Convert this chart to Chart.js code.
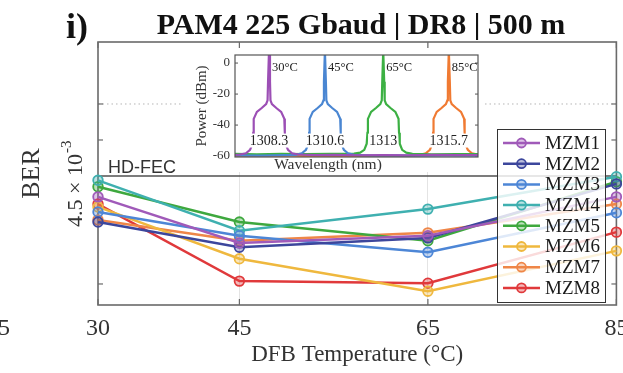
<!DOCTYPE html>
<html><head><meta charset="utf-8">
<script src="https://cdn.jsdelivr.net/npm/chart.js@4.4.1/dist/chart.umd.min.js"></script>
<style>
html,body{margin:0;padding:0;background:#fff;overflow:hidden;}
#wrap{position:relative;width:623px;height:373px;}
#main{position:absolute;left:0;top:0;}
#insetBox{position:absolute;left:183px;top:48px;width:302px;height:124px;background:#fff;}
</style></head><body>
<div id="wrap">
<canvas id="main" width="623" height="373"></canvas>
<div id="insetBox"><canvas id="inset" width="302" height="124"></canvas></div>
</div>
<script>
// ---------- main chart data (BER in units of 1e-3) ----------
const temperatures = [30, 45, 65, 85];
const seriesNames = ['MZM1','MZM2','MZM3','MZM4','MZM5','MZM6','MZM7','MZM8'];
const mzm1 = [4.21, 3.57, 3.67, 4.21];
const mzm2 = [3.86, 3.51, 3.64, 4.39];
const mzm3 = [4.00, 3.67, 3.44, 3.99];
const mzm4 = [4.44, 3.74, 4.04, 4.49];
const mzm5 = [4.35, 3.86, 3.60, 4.42];
const mzm6 = [4.07, 3.35, 2.90, 3.46];
const mzm7 = [3.89, 3.60, 3.71, 4.11];
const mzm8 = [4.11, 3.04, 3.01, 3.72];
const hdFec = 4.5;
const xTicks = [30, 45, 65, 85];
const yTicks = [3, 5, 5.5];
const yGridDotted = [5.5];
const yRange = [2.708, 6.361];

// ---------- inset data ----------
const peakWavelengths = [1308.3, 1310.6, 1313, 1315.7];
const peakLabels = ['1308.3', '1310.6', '1313', '1315.7'];
const tempLabels = ['30°C', '45°C', '65°C', '85°C'];
const insetYTicks = [0, -20, -40, -60];
const spec30wl = [1306.9,1307.1,1307.35,1307.52,1307.62,1307.65,1307.67,1307.8,1308.0,1308.18,1308.24,1308.26,1308.3,1308.34,1308.36,1308.42,1308.6,1308.8,1308.93,1308.95,1308.98,1309.08,1309.25,1309.5,1310.2,1311.0,1312.0,1313.0,1314.0,1315.0,1316.0,1316.9];
const spec30pw = [-59.3,-59.0,-58.2,-56,-52,-45,-36,-31.5,-29,-26.5,-24,-12,8,-12,-24,-26.5,-29,-31.5,-36,-45,-52,-56,-58.2,-59.0,-59.4,-59.2,-59.5,-59.3,-59.6,-59.2,-59.4,-59.3];
const spec45wl = [1306.9,1308.0,1309.4,1309.65,1309.82,1309.92,1309.95,1309.97,1310.1,1310.3,1310.48,1310.54,1310.56,1310.6,1310.64,1310.66,1310.72,1310.9,1311.1,1311.23,1311.25,1311.28,1311.38,1311.55,1311.8,1312.6,1313.6,1314.6,1315.6,1316.9];
const spec45pw = [-59.6,-59.7,-59.2,-58.2,-56,-52,-45,-36,-31.5,-29,-26.5,-24,-12,8,-12,-24,-26.5,-29,-31.5,-36,-45,-52,-56,-58.2,-59.2,-59.7,-59.5,-59.8,-59.6,-59.7];
const spec65wl = [1306.9,1307.8,1308.8,1309.8,1310.8,1311.8,1312.05,1312.22,1312.32,1312.35,1312.37,1312.5,1312.7,1312.88,1312.94,1312.96,1313,1313.04,1313.06,1313.12,1313.3,1313.5,1313.63,1313.65,1313.68,1313.78,1313.95,1314.2,1315.0,1316.0,1316.9];
const spec65pw = [-58.6,-58.9,-58.5,-58.8,-58.6,-58.4,-57.8,-56,-52,-45,-36,-31.5,-29,-26.5,-24,-12,8,-12,-24,-26.5,-29,-31.5,-36,-45,-52,-56,-57.8,-58.6,-58.9,-58.7,-58.8];
const spec85wl = [1306.9,1308.0,1309.2,1310.4,1311.6,1312.8,1314.0,1314.5,1314.75,1314.92,1315.02,1315.05,1315.07,1315.2,1315.4,1315.58,1315.64,1315.66,1315.7,1315.74,1315.76,1315.82,1316.0,1316.2,1316.33,1316.35,1316.38,1316.48,1316.65,1316.9];
const spec85pw = [-59.9,-60.0,-59.8,-60.0,-59.9,-60.0,-59.8,-59.4,-58.2,-56,-52,-45,-36,-31.5,-29,-26.5,-24,-12,8,-12,-24,-26.5,-29,-31.5,-36,-45,-52,-56,-58.2,-59.0];

const SERIF = '"Liberation Serif", "Times New Roman", serif';
const SANS = '"Liberation Sans", Arial, sans-serif';
const colors = ['#a05ab9','#3c469c','#4d86d6','#3fb0b0','#3ea83e','#efb83e','#ef8648','#e0393b'];
const specColors = ['#9c4fb5','#4a86d2','#3cb043','#f07a32'];
function withAlpha(hex, a){const n=parseInt(hex.slice(1),16);return `rgba(${n>>16},${(n>>8)&255},${n&255},${a})`;}

const seriesValues = [mzm1,mzm2,mzm3,mzm4,mzm5,mzm6,mzm7,mzm8];
const datasets = seriesValues.map((vals,i)=>({
  label: seriesNames[i],
  data: vals.map((v,j)=>({x: temperatures[j], y: v})),
  borderColor: colors[i],
  backgroundColor: withAlpha(colors[i],0.35),
  pointBorderColor: colors[i],
  pointBackgroundColor: withAlpha(colors[i],0.35),
  borderWidth: 2.5, pointRadius: 4.8, pointBorderWidth: 1.8,
  tension: 0, clip: false
}));

function line(ctx,x0,y0,x1,y1){ctx.beginPath();ctx.moveTo(x0,y0);ctx.lineTo(x1,y1);ctx.stroke();}

const mainDecor = {
  id: 'mainDecor',
  beforeDatasetsDraw(chart){
    const {ctx, chartArea:a, scales:{x,y}} = chart;
    ctx.save();
    ctx.setLineDash([1.5,3]); ctx.strokeStyle='#b5b5b5'; ctx.lineWidth=1;
    yGridDotted.forEach(v=>{const p=y.getPixelForValue(v); line(ctx,a.left,p,a.right,p);});
    ctx.setLineDash([]);
    ctx.strokeStyle='#6a6a6a'; ctx.lineWidth=1.6;
    ctx.strokeRect(a.left,a.top,a.right-a.left,a.bottom-a.top);
    ctx.lineWidth=1.2; ctx.strokeStyle='#6a6a6a';
    xTicks.forEach(v=>{const p=x.getPixelForValue(v); line(ctx,p,a.bottom,p,a.bottom-6); line(ctx,p,a.top,p,a.top+6);});
    yTicks.forEach(v=>{const p=y.getPixelForValue(v); line(ctx,a.left,p,a.left+5,p); line(ctx,a.right,p,a.right-5,p);});
    const ph = y.getPixelForValue(hdFec);
    ctx.strokeStyle='#505050'; ctx.lineWidth=1.5; line(ctx,a.left,ph,a.right,ph);
    ctx.font='18px '+SANS; ctx.fillStyle='#333'; ctx.textBaseline='alphabetic'; ctx.textAlign='left';
    ctx.fillText('HD-FEC', a.left+10, ph-3);
    ctx.save();
    ctx.translate(82, ph+51); ctx.rotate(-Math.PI/2);
    ctx.font='22px '+SERIF; ctx.fillStyle='#333';
    const main = '4.5 \u00d7 10'; ctx.fillText(main,0,0);
    const w = ctx.measureText(main).width;
    ctx.font='15px '+SERIF; ctx.fillText('-3', w+1, -11);
    ctx.restore();
    ctx.restore();
  },
  afterDatasetsDraw(chart){
    const {ctx} = chart;
    ctx.save();
    const L={x:497,y:129,w:108,h:173,row0:143,step:20.7,lx0:503,lx1:540,tx:545};
    ctx.fillStyle='rgba(255,255,255,0.82)'; ctx.fillRect(L.x,L.y,L.w,L.h);
    ctx.strokeStyle='#333'; ctx.lineWidth=1; ctx.strokeRect(L.x+0.5,L.y+0.5,L.w,L.h);
    chart.data.datasets.forEach((ds,i)=>{
      const yy=L.row0+i*L.step;
      ctx.strokeStyle=ds.borderColor; ctx.lineWidth=2.5; line(ctx,L.lx0,yy,L.lx1,yy);
      ctx.beginPath(); ctx.arc((L.lx0+L.lx1)/2,yy,4.5,0,Math.PI*2);
      ctx.fillStyle=ds.pointBackgroundColor; ctx.fill(); ctx.lineWidth=1.8; ctx.stroke();
      ctx.fillStyle='#1a1a1a'; ctx.font='19px '+SERIF; ctx.textBaseline='middle'; ctx.textAlign='left';
      ctx.fillText(ds.label, L.tx, yy+1);
    });
    ctx.fillStyle='#111'; ctx.textBaseline='alphabetic';
    ctx.font='bold 30px '+SERIF; ctx.textAlign='center';
    ctx.fillText('PAM4 225 Gbaud | DR8 | 500 m', 361, 34);
    ctx.font='bold 36px '+SERIF; ctx.textAlign='left';
    ctx.fillText('i)', 66, 38);
    ctx.font='24px '+SERIF; ctx.fillStyle='#333'; ctx.textAlign='center';
    ctx.fillText('25', -2, 335);
    ctx.restore();
  }
};

new Chart(document.getElementById('main'), {
  type: 'line',
  data: { datasets },
  options: {
    responsive: false, animation: false,
    layout: { padding: { left: 0, right: 6, top: 42, bottom: 0 } },
    plugins: { legend: { display: false }, tooltip: { enabled: false } },
    scales: {
      x: {
        type: 'linear', min: temperatures[0], max: temperatures[temperatures.length-1],
        afterBuildTicks: s => { s.ticks = xTicks.map(v=>({value:v})); },
        ticks: { font: { family: SERIF, size: 24 }, color: '#333', padding: 9, maxRotation: 0, autoSkip: false },
        grid: { color: c => (c.tick && c.tick.value!==xTicks[0] && c.tick.value!==xTicks[xTicks.length-1]) ? '#e4e4e4' : 'rgba(0,0,0,0)', drawTicks: false, lineWidth: 1 },
        border: { display: false },
        title: { display: true, text: 'DFB Temperature (°C)', font: { family: SERIF, size: 23 }, color: '#333', padding: { top: 0, bottom: 4 } },
        afterFit: s => { s.height = 68; s.paddingLeft = 0; s.paddingRight = 0; }
      },
      y: {
        type: 'linear', min: yRange[0], max: yRange[1],
        afterBuildTicks: s => { s.ticks = yTicks.map(v=>({value:v})); },
        ticks: { display: false },
        grid: { display: false, drawTicks: false },
        border: { display: false },
        title: { display: true, text: 'BER', font: { family: SERIF, size: 26 }, color: '#333', padding: { top: 17, bottom: 0 } },
        afterFit: s => { s.width = 98; s.paddingTop = 0; s.paddingBottom = 0; }
      }
    }
  },
  plugins: [mainDecor]
});

// ---------- inset ----------
const specWl = [spec30wl, spec45wl, spec65wl, spec85wl];
const specPw = [spec30pw, spec45pw, spec65pw, spec85pw];
const insetDatasets = specWl.map((wl,i)=>({
  label: tempLabels[i],
  data: wl.map((w,j)=>({x:w, y:specPw[i][j]})),
  borderColor: specColors[i], borderWidth: 2.2, pointRadius: 0, tension: 0
}));

const insetDecor = {
  id: 'insetDecor',
  beforeDatasetsDraw(chart){
    const {ctx, chartArea:a, scales:{y}} = chart;
    ctx.save();
    ctx.strokeStyle='#555'; ctx.lineWidth=1;
    insetYTicks.forEach(v=>{const p=y.getPixelForValue(v); line(ctx,a.left,p,a.left+3,p); line(ctx,a.right,p,a.right-3,p);});
    ctx.restore();
  },
  afterDatasetsDraw(chart){
    const {ctx, chartArea:a, scales:{x,y}} = chart;
    ctx.save();
    ctx.strokeStyle='#555'; ctx.lineWidth=1.2;
    ctx.strokeRect(a.left,a.top,a.right-a.left,a.bottom-a.top);
    peakWavelengths.forEach((w,i)=>{
      const px = x.getPixelForValue(w);
      ctx.font='14px '+SERIF; ctx.textAlign='center'; ctx.textBaseline='middle';
      const py = y.getPixelForValue(-50);
      const tw = ctx.measureText(peakLabels[i]).width;
      ctx.fillStyle='#fff'; ctx.fillRect(px-tw/2-1, py-7, tw+2, 14);
      ctx.fillStyle='#222'; ctx.fillText(peakLabels[i], px, py+0.5);
      ctx.font='12.5px '+SERIF; ctx.textAlign='left';
      ctx.fillText(tempLabels[i], px+3, y.getPixelForValue(-3));
    });
    // x-axis title of the inset (placed left of centre as in the reference)
    ctx.font='15.5px '+SERIF; ctx.fillStyle='#333'; ctx.textAlign='center'; ctx.textBaseline='middle';
    ctx.fillText('Wavelength (nm)', 145, a.bottom+8);
    ctx.restore();
  }
};

new Chart(document.getElementById('inset'), {
  type: 'line',
  data: { datasets: insetDatasets },
  options: {
    responsive: false, animation: false,
    layout: { padding: { left: 0, right: 7, top: 7, bottom: 0 } },
    plugins: { legend: { display: false }, tooltip: { enabled: false } },
    scales: {
      x: {
        type: 'linear', min: 1306.9, max: 1316.9,
        ticks: { display: false }, grid: { display: false, drawTicks: false }, border: { display: false },
        afterFit: s => { s.height = 15; s.paddingLeft = 0; s.paddingRight = 0; }
      },
      y: {
        type: 'linear', min: -60.6, max: 5.2,
        afterBuildTicks: s => { s.ticks = insetYTicks.map(v=>({value:v})); },
        ticks: { font: { family: SERIF, size: 13 }, color: '#333', padding: 5 },
        grid: { display: false, drawTicks: false }, border: { display: false },
        title: { display: true, text: 'Power (dBm)', font: { family: SERIF, size: 15 }, color: '#333', padding: { top: 10, bottom: 0 } },
        afterFit: s => { s.width = 52; s.paddingTop = 0; s.paddingBottom = 0; }
      }
    }
  },
  plugins: [insetDecor]
});
</script>
</body></html>
